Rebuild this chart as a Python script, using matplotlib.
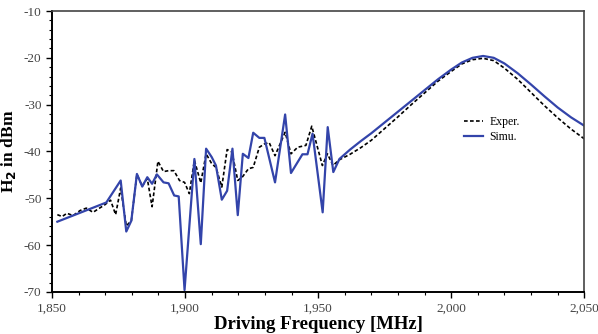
import matplotlib
matplotlib.use("Agg")
import matplotlib.pyplot as plt
from matplotlib.ticker import MultipleLocator, FuncFormatter

# Exper. (dashed black)
exp_f = [1852, 1853.8, 1855.6, 1857.9, 1860.6, 1862.9, 1865.4, 1867.3, 1869.8, 1872,
         1873.9, 1875.8, 1877.9, 1879.8, 1881.9, 1883.9, 1885.8, 1887.6, 1889.8, 1891.9,
         1893.8, 1895.8, 1897.9, 1899.8, 1901.6, 1903.5, 1905.9, 1907.9, 1910, 1911.6,
         1913.8, 1915.8, 1917.6, 1919.8, 1921.6, 1923.8, 1925.6, 1927.9, 1929.8, 1931.6,
         1933.8, 1937.6, 1939.8, 1942.3, 1945.4, 1947.6, 1951.6, 1953.5, 1955.6, 1957.9,
         1962, 1966, 1970, 1975, 1980, 1985, 1990, 1995, 2000, 2004, 2008, 2012,
         2016, 2020, 2025, 2030, 2035, 2040, 2045, 2050]
exp_v = [-53.5, -53.9, -53.2, -53.7, -52.6, -52.1, -53.0, -52.3, -51.4, -50.4,
         -53.5, -47.8, -55.9, -54.8, -44.9, -47.4, -45.8, -51.8, -42.1, -44.3,
         -44.1, -44.1, -46.2, -46.6, -49.0, -41.9, -46.7, -40.5, -42.6, -43.4,
         -47.6, -39.6, -40.1, -46.2, -45.4, -43.7, -43.4, -39.1, -38.4, -38.1,
         -40.9, -35.9, -40.5, -39.1, -38.7, -34.6, -43.0, -40.5, -43.0, -41.8,
         -40.6, -39.2, -37.6, -35.1, -32.6, -30.0, -27.5, -25.0, -22.9, -21.3, -20.4, -20.1,
         -20.6, -22.2, -24.6, -27.4, -30.2, -32.8, -35.2, -37.3]

# Simu. (solid blue)
sim_f = [1852, 1870.4, 1875.8, 1877.9, 1879.8, 1881.9, 1883.9, 1885.8, 1887.6, 1889.4,
         1891.9, 1893.8, 1895.9, 1897.6, 1899.8, 1903.5, 1905.9, 1907.9, 1910, 1911.6,
         1913.8, 1915.8, 1917.8, 1919.8, 1921.7, 1923.8, 1925.6, 1927.9, 1929.8, 1933.8,
         1937.6, 1939.8, 1944.1, 1946, 1947.9, 1951.7, 1953.6, 1955.7, 1958,
         1962, 1966, 1970, 1975, 1980, 1985, 1990, 1995, 2000, 2004, 2008, 2012,
         2016, 2020, 2025, 2030, 2035, 2040, 2045, 2050]
sim_v = [-55.0, -50.9, -46.2, -57.1, -54.8, -44.8, -47.5, -45.5, -46.9, -44.9,
         -46.6, -46.8, -49.4, -49.6, -69.6, -41.6, -59.8, -39.4, -41.2, -43.0,
         -50.3, -48.4, -39.4, -53.6, -40.5, -41.4, -36.0, -37.1, -37.1, -46.6,
         -32.1, -44.6, -40.6, -40.6, -36.2, -53.0, -34.8, -44.4, -41.6,
         -39.6, -37.8, -36.1, -33.8, -31.5, -29.2, -26.9, -24.6, -22.5, -21.0, -20.0, -19.6,
         -20.0, -21.2, -23.3, -25.7, -28.2, -30.6, -32.7, -34.5]

x_ticks = [1850, 1900, 1950, 2000, 2050]
y_ticks = [-70, -60, -50, -40, -30, -20, -10]

plt.rcParams['font.family'] = ['Liberation Serif', 'DejaVu Serif']

fig = plt.figure(figsize=(5.98, 3.34), dpi=100)
ax = fig.add_axes([0.087, 0.126, 0.890, 0.841])

ax.plot(exp_f, exp_v, color='black', linestyle=(0, (2.2, 1.4)), linewidth=1.2, label='Exper.')
ax.plot(sim_f, sim_v, color='#3344aa', linestyle='-', linewidth=1.6, label='Simu.')

ax.set_xlim(1850, 2050)
ax.set_ylim(-70, -10)
ax.set_xticks(x_ticks)
ax.set_yticks(y_ticks)
ax.xaxis.set_minor_locator(MultipleLocator(10))
ax.yaxis.set_minor_locator(MultipleLocator(2))
ax.xaxis.set_major_formatter(FuncFormatter(lambda v, p: f"{int(v):,}"))
ax.yaxis.set_major_formatter(FuncFormatter(lambda v, p: f"{int(v)}"))
ax.tick_params(axis='both', which='major', direction='out', length=4, width=1.0,
               labelsize=9.5, colors='black', labelcolor='#444444')
ax.tick_params(axis='both', which='minor', direction='out', length=2.5, width=0.8)

for side in ['left', 'bottom']:
    ax.spines[side].set_linewidth(1.4)
    ax.spines[side].set_color('black')
for side in ['top', 'right']:
    ax.spines[side].set_linewidth(1.2)
    ax.spines[side].set_color('#444444')

ax.set_xlabel('Driving Frequency [MHz]', fontsize=13.5, fontweight='bold', labelpad=1)
ax.set_ylabel('H$_\\mathbf{2}$ in dBm', fontsize=12.5, fontweight='bold', labelpad=4)

leg = ax.legend(loc='upper left', bbox_to_anchor=(0.755, 0.665), frameon=False,
                fontsize=8.5, handlelength=1.6, handletextpad=0.5, labelspacing=0.3)

fig.savefig('out.png', dpi=100)
